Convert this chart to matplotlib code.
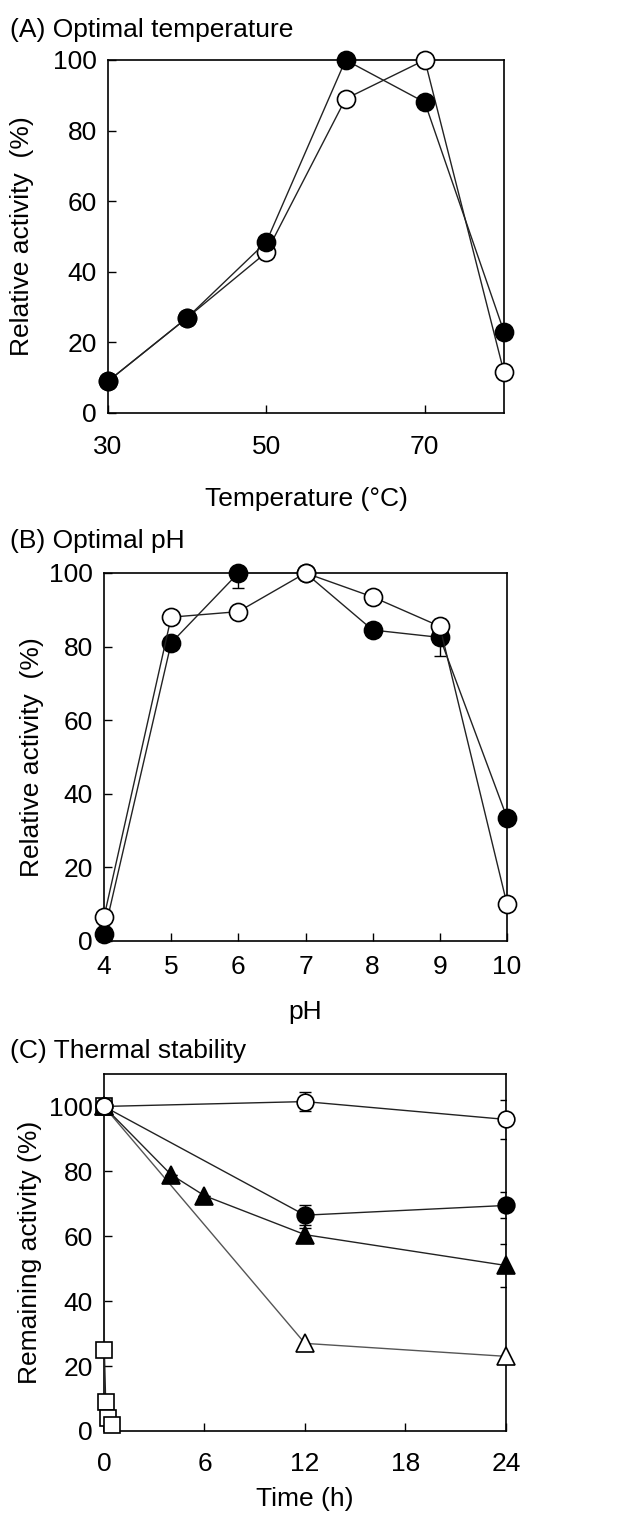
import matplotlib
matplotlib.use("Agg")
import matplotlib.pyplot as plt

plt.rcParams['font.family'] = ['Liberation Sans', 'DejaVu Sans']
plt.rcParams['font.size'] = 19

# (A) optimal temperature
temp = [30, 40, 50, 60, 70, 80]
temp_filled = [9, 27, 48.5, 100, 88, 23]
temp_open = [9, 27, 45.5, 89, 100, 11.5]

# (B) optimal pH
ph = [4, 5, 6, 7, 8, 9, 10]
ph_filled = [2, 81, 100, 100, 84.5, 82.5, 33.5]
ph_filled_err = [0, 0, 4, 0, 0, 5, 0]
ph_open = [6.5, 88, 89.5, 100, 93.5, 85.5, 10]

# (C) thermal stability
t_circ = [0, 12, 24]
open_circ = [100, 101.5, 96]
open_circ_err = [0, 3, 6]
filled_circ = [100, 66.5, 69.5]
filled_circ_err = [0, 3, 4]
t_tri = [0, 4, 6, 12, 24]
filled_tri = [100, 79, 72.5, 60.5, 51]
filled_tri_err = [0, 0, 0, 2, 6.5]
t_open_tri = [0, 12, 24]
open_tri = [100, 27, 23]
t_sq = [0, 0.02, 0.1, 0.25, 0.45]
open_sq = [100, 25, 9, 4, 2]

fig = plt.figure(figsize=(6.3, 15.15), dpi=100)
W, H = 630, 1515


def make_ax(l, t, r, b):
    return fig.add_axes([l / W, 1 - b / H, (r - l) / W, (b - t) / H])


def style(ax, xpad):
    ax.tick_params(direction='in', length=6, width=1, labelsize=19)
    ax.tick_params(axis='x', pad=xpad)
    ax.tick_params(axis='y', pad=8)
    for s in ax.spines.values():
        s.set_linewidth(1.2)


def curve(ax, x, y, mfc, marker='o', ms=13, color='#222222'):
    ax.plot(x, y, color=color, lw=1, marker=marker, ms=ms, mfc=mfc,
            mec='black', mew=1.2, clip_on=False, zorder=3)


# panel A
axA = make_ax(108, 60, 504, 413)
curve(axA, temp, temp_open, 'white')
curve(axA, temp, temp_filled, 'black')
axA.set_xlim(30, 80)
axA.set_ylim(0, 100)
axA.set_xticks([30, 50, 70])
axA.set_yticks(range(0, 101, 20))
style(axA, 16)
axA.set_xlabel('Temperature (°C)', labelpad=20)
axA.set_ylabel('Relative activity  (%)')
axA.yaxis.set_label_coords(-0.188, 0.5)
fig.text(10 / W, 1 - 37 / H, '(A) Optimal temperature', fontsize=19, va='baseline')

# panel B
axB = make_ax(104, 573, 507, 941)
axB.errorbar(ph, ph_filled, yerr=ph_filled_err, fmt='none', ecolor='black',
             elinewidth=1, capsize=4, zorder=2)
curve(axB, ph, ph_filled, 'black')
curve(axB, ph, ph_open, 'white')
axB.set_xlim(4, 10)
axB.set_ylim(0, 100)
axB.set_xticks(ph)
axB.set_yticks(range(0, 101, 20))
style(axB, 10)
axB.set_xlabel('pH', labelpad=15)
axB.set_ylabel('Relative activity  (%)')
axB.yaxis.set_label_coords(-0.15, 0.5)
fig.text(10 / W, 1 - 548 / H, '(B) Optimal pH', fontsize=19, va='baseline')

# panel C
axC = make_ax(104, 1074, 506, 1431)
axC.errorbar(t_circ, open_circ, yerr=open_circ_err, fmt='none', ecolor='black',
             elinewidth=1, capsize=4, zorder=2)
axC.errorbar(t_circ, filled_circ, yerr=filled_circ_err, fmt='none', ecolor='black',
             elinewidth=1, capsize=4, zorder=2)
axC.errorbar(t_tri, filled_tri, yerr=filled_tri_err, fmt='none', ecolor='black',
             elinewidth=1, capsize=4, zorder=2)
curve(axC, t_sq, open_sq, 'white', marker='s', ms=12)
curve(axC, t_open_tri, open_tri, 'white', marker='^', ms=13, color='#555555')
curve(axC, t_tri, filled_tri, 'black', marker='^', ms=13)
curve(axC, t_circ, filled_circ, 'black', ms=12)
curve(axC, t_circ, open_circ, 'white', ms=12)
axC.set_xlim(0, 24)
axC.set_ylim(0, 110)
axC.set_xticks([0, 6, 12, 18, 24])
axC.set_yticks(range(0, 101, 20))
style(axC, 15)
axC.set_xlabel('Time (h)', labelpad=8)
axC.set_ylabel('Remaining activity (%)')
axC.yaxis.set_label_coords(-0.155, 0.5)
fig.text(10 / W, 1 - 1058 / H, '(C) Thermal stability', fontsize=19, va='baseline')

fig.savefig('out.png', dpi=100)
